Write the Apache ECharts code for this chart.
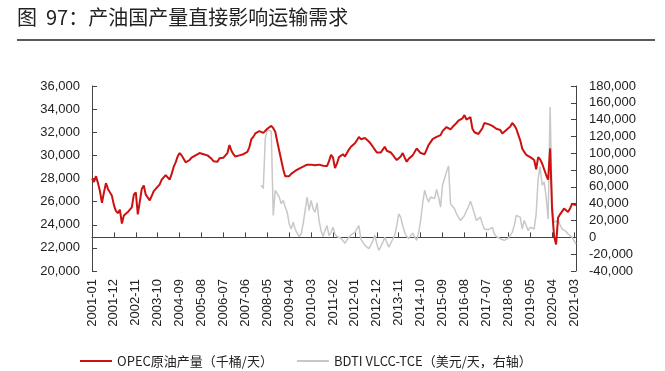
<!DOCTYPE html>
<html><head><meta charset="utf-8">
<script src="https://cdn.jsdelivr.net/npm/echarts@6/dist/echarts.min.js"></script>
<style>html,body{margin:0;padding:0;background:#fff}#c{width:665px;height:371px}</style>
</head><body><div id="c"></div>
<script>
// categories: monthly 2001-01 .. 2021-04
const startYear = 2001, monthCount = 244;
const categories = [];
for (let k = 0; k < monthCount; k++) {
  const y = startYear + Math.floor(k / 12), m = (k % 12) + 1;
  categories.push(y + '-' + (m < 10 ? '0' + m : m));
}
// OPEC crude production (kb/d), left axis
const opec = [
28000,27700,28200,27600,26900,25900,26800,27600,27100,26800,26500,25700,
25200,25000,25300,24100,24800,24900,25100,25300,25500,26600,26800,24900,
26000,27100,27400,26600,26500,26100,26500,26900,27000,27300,27500,27900,
28100,28300,28100,27900,28400,29000,29400,29900,30200,30000,29700,29400,
29300,29600,29800,29900,30000,30100,30200,30250,30100,30000,30000,29900,
29700,29500,29600,29450,29750,29750,29800,29750,30200,30900,30400,30100,
29900,29950,30000,30050,30100,30200,30300,30700,31400,31600,31900,32050,
32100,32200,31950,32000,32300,32400,32550,32350,32050,31200,30400,29600,
28800,28200,28050,28200,28400,28500,28650,28750,28850,28950,29020,29100,
29200,29300,29200,29150,29150,29100,29200,29100,29100,29050,29080,29500,
30050,29800,28900,29300,29850,30000,30100,29900,29880,30500,30750,30900,
31050,31300,31600,31400,31400,31500,31450,31200,31000,30750,30500,30250,
30200,30250,30500,30750,30400,30450,30250,30050,29800,29600,29450,29900,
30200,29800,29450,29700,29850,30000,30100,30600,30400,30200,30150,30100,
30500,30900,31150,31400,31500,31600,31700,31750,32100,32250,32450,32300,
32250,32450,32600,32800,33000,33100,33200,33480,33100,33200,33300,32300,
32000,31900,31850,32100,32350,32800,32750,32700,32700,32550,32400,32300,
32250,32200,31900,32050,32200,32350,32500,32800,32600,32300,31800,31300,
30600,30300,30050,29900,29850,29750,29600,28800,29850,29650,29300,28800,
28300,27900,30600,25300,23000,22300,24600,24900,25000,25400,25500,25100,
25400,25800,25700,25700
];
// BDTI VLCC-TCE (USD/day), right axis, starting 2008-02
const bdtiStart = '2008-02';
const bdti = [
62000,58000,118000,128000,130000,126000,26000,56000,57000,48000,40000,
44000,36000,30000,16000,10000,18000,10000,5000,1000,4000,16000,32000,
48000,32000,44000,34000,30000,41000,20000,8000,1000,8000,14000,2000,
6000,12000,3500,1000,2000,-1000,-3000,-7000,-3000,0,3000,4000,
6000,10000,14000,-2000,-6000,-9500,-11000,-13500,-9000,-4000,2500,-8000,
-15500,-11000,-6000,0,-6000,-11500,-7000,-2000,2500,14000,28000,24000,
14000,6000,1000,-1600,2000,5000,4000,-3600,6000,20000,40000,56000,
48000,42000,48000,50000,46000,57000,48000,36000,62000,64000,78000,85000,
40000,38000,34000,28000,24000,20000,22000,26000,32000,36000,43000,36000,
28000,20000,22000,24000,16000,10000,8000,9000,11000,12000,4000,1000,
0,-1600,-2500,-3600,-2500,-1000,0,6000,14000,26000,28000,24000,
10000,20000,14000,8000,12000,11000,10000,28000,70000,84000,62000,66000,
48000,22000,155000,40000,18000,16000,20000,15000,10000,9000,7000,4000,
3000,0,-4000,-8000
];
const leftTicks = {min: 20000, max: 36000, interval: 2000};
const rightTicks = {min: -40000, max: 180000, interval: 20000};

const offset = categories.indexOf(bdtiStart);
const bdtiFull = new Array(offset).fill(null).concat(bdti);

const FONT = 'Liberation Sans, Arial, Noto Sans CJK SC, sans-serif';
const chart = echarts.init(document.getElementById('c'), null, {renderer: 'canvas'});
const fmt = v => v.toLocaleString('en-US');
chart.setOption({
  animation: false,
  backgroundColor: '#ffffff',
  textStyle: {fontFamily: FONT},
  title: {
    text: '图  97：产油国产量直接影响运输需求',
    left: 17, top: 7, padding: 0,
    textStyle: {fontFamily: 'Noto Sans CJK SC, sans-serif', fontSize: 20, fontWeight: 'normal', color: '#222'}
  },
  graphic: [{type: 'line', shape: {x1: 17, y1: 40, x2: 655, y2: 40}, style: {stroke: '#222', lineWidth: 1.5}}],
  grid: {left: 92, right: 89, top: 86, bottom: 100, containLabel: false},
  legend: {
    left: 80, top: 352, padding: 0,
    itemWidth: 32, itemHeight: 2, itemGap: 24,
    textStyle: {fontFamily: 'Noto Sans CJK SC, Liberation Sans, sans-serif', fontSize: 13, color: '#222', lineHeight: 18},
    data: [{name: 'OPEC原油产量（千桶/天）', icon: 'rect'}, {name: 'BDTI VLCC-TCE（美元/天，右轴）', icon: 'rect'}]
  },
  xAxis: {
    type: 'category', data: categories, boundaryGap: false,
    axisLine: {lineStyle: {color: '#444', width: 1}},
    axisTick: {inside: true, interval: 10, length: 5, lineStyle: {color: '#444'}},
    axisLabel: {interval: 10, rotate: 90, fontSize: 13, color: '#222', margin: 8, fontFamily: FONT},
    splitLine: {show: false}
  },
  yAxis: [{
    type: 'value', min: leftTicks.min, max: leftTicks.max, interval: leftTicks.interval,
    axisLine: {show: true, lineStyle: {color: '#444'}},
    axisTick: {show: true, inside: true, length: 5, lineStyle: {color: '#444'}},
    axisLabel: {formatter: fmt, fontSize: 13, color: '#222', margin: 12, fontFamily: FONT},
    splitLine: {show: false}
  }, {
    type: 'value', min: rightTicks.min, max: rightTicks.max, interval: rightTicks.interval,
    axisLine: {show: true, lineStyle: {color: '#444'}},
    axisTick: {show: true, inside: true, length: 5, lineStyle: {color: '#444'}},
    axisLabel: {formatter: fmt, fontSize: 13, color: '#222', margin: 13, fontFamily: FONT},
    splitLine: {show: false}
  }],
  series: [{
    name: 'BDTI VLCC-TCE（美元/天，右轴）', type: 'line', yAxisIndex: 1, data: bdtiFull,
    symbol: 'none', connectNulls: false, z: 1,
    lineStyle: {color: '#c8c8c8', width: 1.5}, itemStyle: {color: '#c8c8c8'}
  }, {
    name: 'OPEC原油产量（千桶/天）', type: 'line', yAxisIndex: 0, data: opec,
    symbol: 'none', z: 2,
    lineStyle: {color: '#cc1111', width: 2}, itemStyle: {color: '#cc1111'}
  }]
});
</script></body></html>
